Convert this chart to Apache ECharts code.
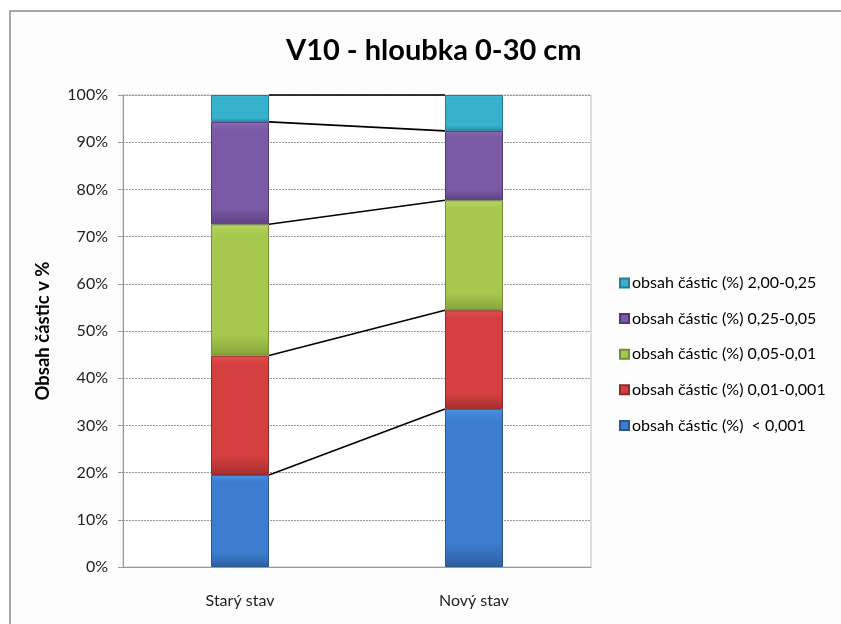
<!DOCTYPE html>
<html>
<head>
<meta charset="utf-8">
<style>
  html, body { margin: 0; padding: 0; background: #ffffff; }
  #chart { width: 841px; height: 624px; }
</style>
<script src="https://cdn.jsdelivr.net/npm/echarts@6/dist/echarts.min.js"></script>
</head>
<body>
<div id="chart"></div>
<script>
// Sampling sites
const categories = ['Starý stav', 'Nový stav'];

// Particle-size fractions, share in % (bottom to top of each column)
const seriesNames = [
  'obsah částic (%)  < 0,001',
  'obsah částic (%) 0,01-0,001',
  'obsah částic (%) 0,05-0,01',
  'obsah částic (%) 0,25-0,05',
  'obsah částic (%) 2,00-0,25'
];
const fracClay   = [19.5, 33.5];
const fracFine   = [25.3, 20.9];
const fracSilt   = [27.8, 23.3];
const fracSand   = [21.7, 14.7];
const fracCoarse = [5.7, 7.6];

const yTicks = [0, 10, 20, 30, 40, 50, 60, 70, 80, 90, 100];

const fractions = [fracClay, fracFine, fracSilt, fracSand, fracCoarse];

// base colour, light top, dark bottom, border
const palette = [
  ['#3c7dd0', '#4a90e2', '#2d5f9e', '#2a5790'],
  ['#d43f3f', '#e05050', '#a52d2d', '#8f2a2a'],
  ['#a6c84f', '#b4d65c', '#84a43a', '#738f33'],
  ['#7b5aa5', '#8a69b5', '#5d4082', '#523873'],
  ['#36b2cc', '#45c2dc', '#278ea6', '#237f94']
];

const FONT = 'Lato, "Open Sans", sans-serif';

const barSeries = fractions.map((vals, i) => ({
  name: seriesNames[i],
  type: 'bar',
  stack: 'total',
  barWidth: 58,
  data: vals,
  itemStyle: {
    color: new echarts.graphic.LinearGradient(0, 0, 0, 1, [
      { offset: 0, color: palette[i][1] },
      { offset: 0.08, color: palette[i][0] },
      { offset: 0.85, color: palette[i][0] },
      { offset: 1, color: palette[i][2] }
    ]),
    borderColor: palette[i][3],
    borderWidth: 1
  },
  emphasis: { disabled: true },
  z: 3
}));

// cumulative tops of each fraction, used for the connector lines
const levels = [];
for (let i = 0; i < fractions.length; i++) {
  const row = categories.map((_, c) => {
    let s = 0;
    for (let k = 0; k <= i; k++) s += fractions[k][c];
    return Math.min(100, s);
  });
  levels.push(row);
}

const connectorSeries = {
  type: 'custom',
  name: 'connectors',
  silent: true,
  z: 4,
  data: levels,
  renderItem: function (params, api) {
    const p0 = api.coord([0, api.value(0)]);
    const p1 = api.coord([1, api.value(1)]);
    const half = 29;
    return {
      type: 'line',
      shape: { x1: p0[0] + half, y1: p0[1], x2: p1[0] - half, y2: p1[1] },
      style: { stroke: '#000000', lineWidth: 1.6 }
    };
  },
  encode: { x: -1, y: [0, 1] }
};

const chart = echarts.init(document.getElementById('chart'), null, { renderer: 'canvas' });
chart.setOption({
  animation: false,
  backgroundColor: '#ffffff',
  graphic: [
    {
      type: 'rect',
      shape: { x: 10, y: 11, width: 860, height: 640 },
      style: { fill: '#fdfdfd', stroke: '#8a8a8a', lineWidth: 1.5 },
      z: -10
    }
  ],
  title: {
    text: 'V10 - hloubka 0-30 cm',
    left: 281,
    top: 31,
    textStyle: { fontFamily: FONT, fontSize: 29, fontWeight: 'bold', color: '#000000' }
  },
  legend: {
    orient: 'vertical',
    left: 614,
    top: 270,
    itemWidth: 9,
    itemHeight: 9,
    itemGap: 19.6,
    icon: 'rect',
    data: seriesNames.slice().reverse(),
    textStyle: { fontFamily: FONT, fontSize: 16, lineHeight: 16, color: '#000000', padding: [0, 0, 0, -2] }
  },
  grid: {
    left: 123,
    right: 250,
    top: 95,
    bottom: 57,
    show: true,
    borderColor: '#bdbdbd',
    borderWidth: 1,
    backgroundColor: '#ffffff'
  },
  xAxis: {
    type: 'category',
    data: categories,
    axisTick: { show: false },
    axisLine: { lineStyle: { color: '#9a9a9a' } },
    axisLabel: { fontFamily: FONT, fontSize: 16, color: '#222222', margin: 26 }
  },
  yAxis: {
    type: 'value',
    min: 0,
    max: 100,
    interval: 10,
    name: 'Obsah částic v %',
    nameLocation: 'middle',
    nameGap: 70,
    nameTextStyle: { fontFamily: FONT, fontSize: 18.5, fontWeight: 'bold', color: '#000000' },
    axisLine: { show: true, lineStyle: { color: '#9a9a9a' } },
    axisTick: { show: true, length: 5, lineStyle: { color: '#9a9a9a' } },
    axisLabel: {
      fontFamily: FONT, fontSize: 16, color: '#222222', margin: 15,
      formatter: v => (yTicks.indexOf(v) >= 0 ? v + '%' : '')
    },
    splitLine: { lineStyle: { color: '#9a9a9a', type: [2, 1], width: 1 } }
  },
  series: barSeries.concat([connectorSeries])
});
</script>
</body>
</html>
